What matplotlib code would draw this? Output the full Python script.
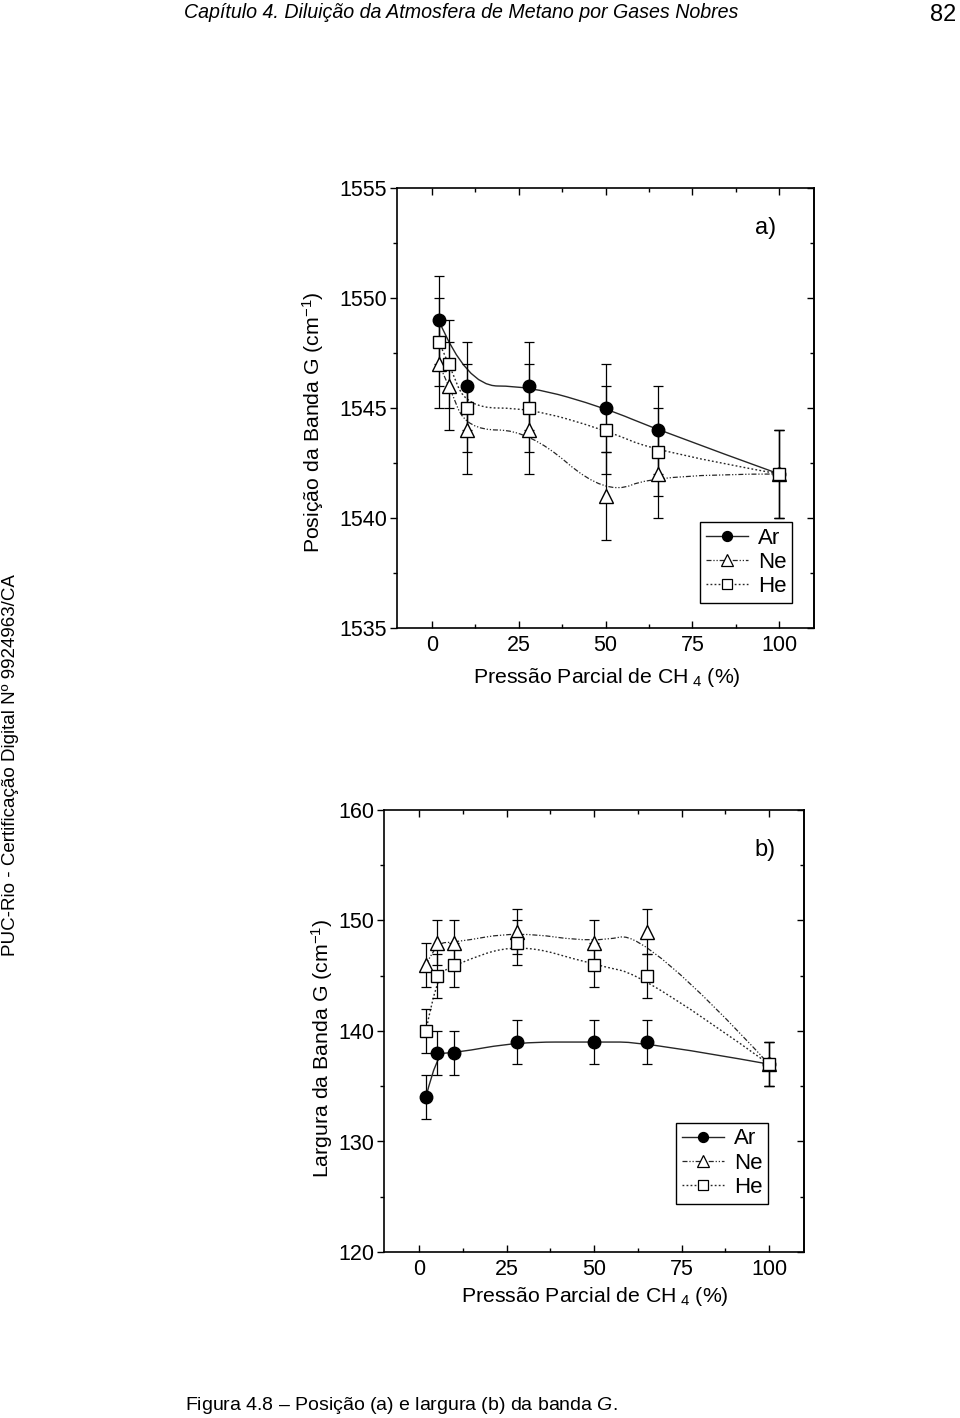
import matplotlib
matplotlib.use("Agg")
import matplotlib.pyplot as plt
from matplotlib.path import Path
from matplotlib.patches import PathPatch
from matplotlib.lines import Line2D
from matplotlib.ticker import MultipleLocator

plt.rcParams["font.family"] = ["Liberation Sans", "DejaVu Sans"]
plt.rcParams["mathtext.fontset"] = "custom"
plt.rcParams["mathtext.rm"] = "Liberation Sans"
plt.rcParams["mathtext.it"] = "Liberation Sans:italic"

# ---- data (x = partial pressure of CH4, %) ----
x_ar_a = [2, 10, 28, 50, 65, 100]
pos_ar = [1549, 1546, 1546, 1545, 1544, 1542]
x_ng_a = [2, 5, 10, 28, 50, 65, 100]
pos_ne = [1547, 1546, 1544, 1544, 1541, 1542, 1542]
pos_he = [1548, 1547, 1545, 1545, 1544, 1543, 1542]
err_a = 2

x_b = [2, 5, 10, 28, 50, 65, 100]
wid_ar = [134, 138, 138, 139, 139, 139, 137]
wid_ne = [146, 148, 148, 149, 148, 149, 137]
wid_he = [140, 145, 146, 148, 146, 145, 137]
err_b = 2

GASES = ["Ar", "Ne", "He"]
STY = {
    "Ar": dict(marker="o", ms=9, mfc="black", ls="-", lw=1.0),
    "Ne": dict(marker="^", ms=10, mfc="white", ls=(0, (4, 1.5, 1, 1.5, 1, 1.5)), lw=0.9),
    "He": dict(marker="s", ms=9, mfc="white", ls=(0, (1.3, 1.6)), lw=1.0),
}
LINE_C = "0.15"
TICK_FS = 15.5
LAB_FS = 15.3

W, H = 960, 1418
fig = plt.figure(figsize=(W / 100, H / 100), dpi=100)


def fx(px):
    return px / W


def fy(py):
    return 1 - py / H


def bspline(ax, xs, ys, ls, lw):
    # quadratic B-spline with the data points as control points (Origin "B-Spline" look)
    verts, codes = [(xs[0], ys[0])], [Path.MOVETO]
    n = len(xs)
    for i in range(1, n - 1):
        end = (xs[n - 1], ys[n - 1]) if i == n - 2 else ((xs[i] + xs[i + 1]) / 2, (ys[i] + ys[i + 1]) / 2)
        verts += [(xs[i], ys[i]), end]
        codes += [Path.CURVE3, Path.CURVE3]
    ax.add_patch(PathPatch(Path(verts, codes), fc="none", ec=LINE_C, ls=ls, lw=lw, zorder=2))


def style_axes(ax, ymaj, ymin):
    ax.set_xlim(-10, 110)
    ax.xaxis.set_major_locator(MultipleLocator(25))
    ax.xaxis.set_minor_locator(MultipleLocator(12.5))
    ax.yaxis.set_major_locator(MultipleLocator(ymaj))
    ax.yaxis.set_minor_locator(MultipleLocator(ymin))
    ax.tick_params(axis="x", which="both", direction="in", top=True, labelsize=TICK_FS, pad=5)
    ax.tick_params(axis="y", which="both", direction="out", right=False, labelsize=TICK_FS, pad=2)
    ax.tick_params(which="major", length=5, width=1)
    ax.tick_params(which="minor", length=3, width=1)
    for s in ax.spines.values():
        s.set_linewidth(1.2)
    # right-hand mirror ticks point inward, left ones outward
    sec = ax.secondary_yaxis("right")
    sec.yaxis.set_major_locator(MultipleLocator(ymaj))
    sec.yaxis.set_minor_locator(MultipleLocator(ymin))
    sec.tick_params(which="both", direction="in", labelright=False)
    sec.tick_params(which="major", length=5, width=1)
    sec.tick_params(which="minor", length=3, width=1)
    sec.spines["right"].set_linewidth(1.2)


def draw(ax, series):
    for g, xs, ys, err in series:
        st = STY[g]
        bspline(ax, xs, ys, st["ls"], st["lw"])
        ax.errorbar(xs, ys, yerr=err, fmt="none", ecolor="black", elinewidth=0.9,
                    capsize=3.5, capthick=0.9, zorder=3)
        ax.plot(xs, ys, ls="none", marker=st["marker"], ms=st["ms"], mfc=st["mfc"],
                mec="black", mew=1.0, zorder=4)


def legend(ax, anchor):
    handles = [Line2D([], [], color=LINE_C, ls=STY[g]["ls"], lw=STY[g]["lw"],
                      marker=STY[g]["marker"], ms=STY[g]["ms"] * 0.8, mfc=STY[g]["mfc"],
                      mec="black", mew=0.9, label=g) for g in GASES]
    lg = ax.legend(handles=handles, loc="upper right", bbox_to_anchor=anchor, borderaxespad=0,
                   fontsize=16, handlelength=1.9, handletextpad=0.45, labelspacing=0.15,
                   borderpad=0.25, fancybox=False, framealpha=1, edgecolor="black")
    lg.get_frame().set_linewidth(1.0)


# ---- (a) band position ----
axA = fig.add_axes([fx(397), fy(628), fx(417), (628 - 188) / H])
draw(axA, [("Ar", x_ar_a, pos_ar, err_a), ("Ne", x_ng_a, pos_ne, err_a), ("He", x_ng_a, pos_he, err_a)])
axA.set_ylim(1535, 1555)
style_axes(axA, 5, 2.5)
legend(axA, (0.947, 0.241))
axA.text(0.885, 0.909, "a)", transform=axA.transAxes, fontsize=17, ha="center", va="center")

# ---- (b) band width ----
axB = fig.add_axes([fx(384), fy(1252), fx(420), (1252 - 810) / H])
draw(axB, [("Ar", x_b, wid_ar, err_b), ("Ne", x_b, wid_ne, err_b), ("He", x_b, wid_he, err_b)])
axB.set_ylim(120, 160)
style_axes(axB, 10, 5)
legend(axB, (0.914, 0.292))
axB.text(0.907, 0.909, "b)", transform=axB.transAxes, fontsize=17, ha="center", va="center")

# ---- axis titles ----
xlab = r"Pressão Parcial de CH$\mathregular{_{\ 4}}$ (%)"
fig.text(fx(607), fy(678), xlab, fontsize=LAB_FS, ha="center", va="center")
fig.text(fx(595), fy(1297), xlab, fontsize=LAB_FS, ha="center", va="center")
fig.text(fx(313), fy(422), r"Posição da Banda G (cm$\mathregular{^{-1}}$)", fontsize=LAB_FS,
         rotation=90, ha="center", va="center")
fig.text(fx(322), fy(1048), r"Largura da Banda G (cm$\mathregular{^{-1}}$)", fontsize=LAB_FS,
         rotation=90, ha="center", va="center")

# ---- page furniture ----
fig.text(fx(461), fy(13), "Capítulo 4. Diluição da Atmosfera de Metano por Gases Nobres",
         fontsize=14.1, style="italic", ha="center", va="center")
fig.text(fx(943), fy(15), "82", fontsize=17, ha="center", va="center")
fig.text(fx(11), fy(765), "PUC-Rio - Certificação Digital Nº 9924963/CA", fontsize=13.5,
         rotation=90, ha="center", va="center")
fig.text(fx(185), fy(1405), r"Figura 4.8 – Posição (a) e largura (b) da banda $\mathit{G}$.",
         fontsize=14, ha="left", va="center")

fig.savefig("out.png", dpi=100)
